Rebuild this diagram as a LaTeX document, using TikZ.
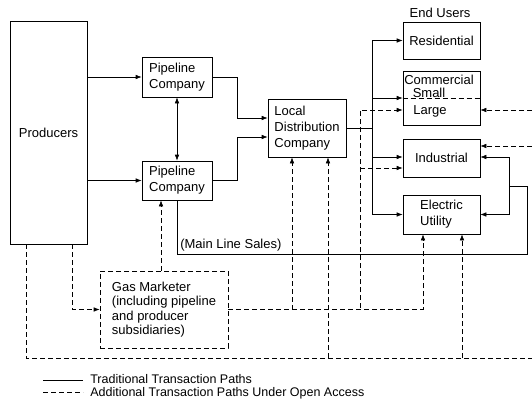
\documentclass[tikz,border=0pt]{standalone}
\usepackage{fontspec}
\setmainfont{Liberation Sans}
\usetikzlibrary{arrows.meta}

\begin{document}
\begin{tikzpicture}[x=1pt,y=-1pt,>={Latex[length=6pt,width=4.5pt]},line width=0.6pt,
  box/.style={draw,rectangle,align=left,inner sep=2pt,font=\fontsize{13}{16}\selectfont},
  openaccess/.style={dash pattern=on 5pt off 3pt},
  lbl/.style={inner sep=0pt,font=\fontsize{13}{16}\selectfont}]
\useasboundingbox (0,0) rectangle (532,402);
\node[box,minimum width=77pt,minimum height=223pt] (prod) at (48.5,132.5) {Producers};
\node[box,minimum width=70pt,minimum height=40pt] (pc1) at (177,77) {Pipeline\\Company};
\node[box,minimum width=70pt,minimum height=39pt] (pc2) at (177,180.5) {Pipeline\\Company};
\node[box,minimum width=78pt,minimum height=58pt] (ldc) at (307,128) {Local\\Distribution\\Company};
\node[lbl] (users) at (440,13) {End Users};
\node[box,minimum width=77pt,minimum height=37pt] (res) at (441.5,40.5) {Residential};
\node[box,minimum width=77pt,minimum height=54pt] (com) at (441.5,98) {};
\node[lbl,anchor=west] (comname) at (404,79.5) {Commercial};
\node[lbl] (small) at (429,92.5) {Small};
\node[lbl] (large) at (430,111) {Large};
\node[box,minimum width=77pt,minimum height=38pt] (ind) at (441.5,158) {Industrial};
\node[box,minimum width=77pt,minimum height=39pt] (elec) at (441.5,214.5) {Electric\\Utility};
\node[box,openaccess,minimum width=128pt,minimum height=77pt,font=\fontsize{13}{14.5}\selectfont] (gm) at (164,309.5) {Gas Marketer\\(including pipeline\\and producer\\subsidiaries)};
\node[lbl,anchor=west] (mainline) at (180,245) {(Main Line Sales)};

\coordinate (trunk) at (372,128);
\coordinate (jl) at (360,308);
\coordinate (rim) at (532,358);
\coordinate (mls) at (527,254);
\coordinate (tap) at (509,186);

\draw[->] (prod.east |- pc1.west) -- (pc1.west);
\draw[->] (prod.east |- pc2.west) -- (pc2.west);
\draw[<->] (pc1) -- (pc2);
\draw[->] (pc1.east) -- ++(25,0) |- ([yshift=10pt]ldc.west);
\draw[->] (pc2.east) -- ++(25,0) |- ([yshift=-9pt]ldc.west);
\draw (ldc.east) -- (trunk);
\draw[->] (trunk) |- (res.west);
\draw[->] (trunk) |- (com.west);
\draw[->] (trunk) |- ([yshift=1pt]ind.west);
\draw[->] (trunk) |- (elec.west);
\draw[openaccess] (com.west) -- (com.east);

\draw (pc2.south) |- (mls) |- (tap);
\draw[->] (tap) |- ([yshift=1pt]ind.east);
\draw[->] (tap) |- (elec.east);

\draw[openaccess,->] ([xshift=-16pt]pc2.south |- gm.north) -- ([xshift=-16pt]pc2.south);
\draw[openaccess,->] ([xshift=23.5pt]prod.south) |- (gm.west);
\draw[openaccess,->] (gm.east) -| ([xshift=-18.5pt]elec.south);
\draw[openaccess,->] ([xshift=-15pt]ldc.south |- gm.east) -- ([xshift=-15pt]ldc.south);
\draw[openaccess,->] (jl) |- ([yshift=-12pt]com.west);
\draw[openaccess,->] ([yshift=-10pt]ind.west -| jl) -- ([yshift=-10pt]ind.west);

\draw[openaccess] ([xshift=-22.5pt]prod.south) |- (rim);
\draw[openaccess,->] ([xshift=21pt]ldc.south |- rim) -- ([xshift=21pt]ldc.south);
\draw[openaccess,->] ([xshift=20.5pt]elec.south |- rim) -- ([xshift=20.5pt]elec.south);
\draw[openaccess,->] ([yshift=-12pt]com.east -| rim) -- ([yshift=-12pt]com.east);
\draw[openaccess,->] ([yshift=12pt]ind.east -| rim) -- ([yshift=12pt]ind.east);

\coordinate (keya) at (43,380);
\coordinate (keyb) at (83,380);
\coordinate (keyc) at (43,392);
\coordinate (keyd) at (83,392);
\draw (keya) -- (keyb);
\draw[openaccess] (keyc) -- (keyd);
\node[lbl,anchor=west,font=\fontsize{12.5}{14}\selectfont] (keytrad) at (90,379) {Traditional Transaction Paths};
\node[lbl,anchor=west,font=\fontsize{12.5}{14}\selectfont] (keyopen) at (90,393) {Additional Transaction Paths Under Open Access};
\end{tikzpicture}
\end{document}
